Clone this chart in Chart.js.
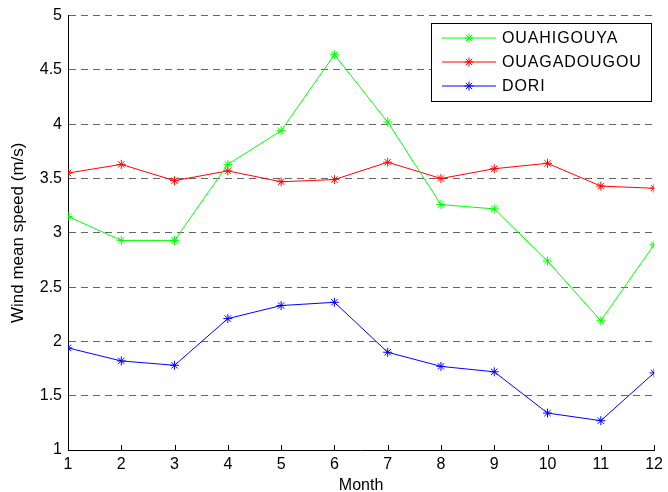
<!DOCTYPE html>
<html lang="en">
<head>
    <meta charset="UTF-8">
    <title>Wind mean speed</title>
    <style>
        html, body { margin: 0; padding: 0; background: #fff; }
        #wrap { width: 668px; height: 492px; }
    </style>
</head>
<body>
    <div id="wrap"><canvas id="myChart" width="668" height="492"></canvas></div>

    <script src="https://cdn.jsdelivr.net/npm/chart.js@4.4.0/dist/chart.umd.min.js"></script>
    <script>
        // data
        var months = [1, 2, 3, 4, 5, 6, 7, 8, 9, 10, 11, 12];
        var ouahigouya = [3.15, 2.93, 2.93, 3.63, 3.94, 4.64, 4.02, 3.26, 3.22, 2.74, 2.19, 2.89];
        var ouagadougou = [3.55, 3.63, 3.48, 3.57, 3.47, 3.49, 3.65, 3.50, 3.59, 3.64, 3.43, 3.41];
        var dori = [1.94, 1.82, 1.78, 2.21, 2.33, 2.36, 1.90, 1.77, 1.72, 1.34, 1.27, 1.71];
        var yTicks = [1, 1.5, 2, 2.5, 3, 3.5, 4, 4.5, 5];

        var font = "'Liberation Sans', Arial, Helvetica, sans-serif";

        function series(label, values, color) {
            return {
                label: label,
                data: values.map(function (v, i) { return { x: months[i], y: v }; }),
                borderColor: color,
                backgroundColor: color,
                borderWidth: 1,
                pointStyle: 'star',
                pointRadius: 4.5,
                pointBorderWidth: 1,
                tension: 0,
                fill: false
            };
        }

        // matlab style ticks pointing into the plot
        var innerTicks = {
            id: 'innerTicks',
            afterDraw: function (chart) {
                var ctx = chart.ctx, xs = chart.scales.x, area = chart.chartArea;
                ctx.save();
                ctx.strokeStyle = '#000';
                ctx.lineWidth = 1;
                ctx.beginPath();
                months.forEach(function (m) {
                    var px = Math.round(xs.getPixelForValue(m)) + 0.5;
                    ctx.moveTo(px, area.bottom);
                    ctx.lineTo(px, area.bottom - 5);
                });
                ctx.stroke();
                ctx.restore();
            }
        };

        // legend box with line + marker, like the original
        var boxLegend = {
            id: 'boxLegend',
            afterDraw: function (chart) {
                var ctx = chart.ctx;
                var bx = 431.5, by = 23.5, bw = 220, bh = 78;
                ctx.save();
                ctx.fillStyle = '#fff';
                ctx.fillRect(bx, by, bw, bh);
                ctx.strokeStyle = '#000';
                ctx.lineWidth = 1;
                ctx.strokeRect(bx, by, bw, bh);
                ctx.font = '16px ' + font;
                ctx.letterSpacing = '0.9px';
                ctx.textBaseline = 'middle';
                chart.data.datasets.forEach(function (ds, i) {
                    var y = 38 + i * 24;
                    ctx.strokeStyle = ds.borderColor;
                    ctx.beginPath();
                    ctx.moveTo(442, y);
                    ctx.lineTo(496, y);
                    ctx.stroke();
                    Chart.helpers.drawPoint(ctx, { pointStyle: 'star', radius: 4.5, borderWidth: 1 }, 469, y);
                    ctx.fillStyle = '#000';
                    ctx.fillText(ds.label, 502, y + 1);
                });
                ctx.restore();
            }
        };

        var ctx = document.getElementById('myChart').getContext('2d');
        var myChart = new Chart(ctx, {
            type: 'line',
            data: {
                datasets: [
                    series('OUAHIGOUYA', ouahigouya, '#00ff00'),
                    series('OUAGADOUGOU', ouagadougou, '#ff0000'),
                    series('DORI', dori, '#0000ff')
                ]
            },
            plugins: [innerTicks, boxLegend],
            options: {
                responsive: false,
                animation: false,
                layout: { padding: { top: 15, right: 11, bottom: 0, left: 0 } },
                plugins: {
                    legend: { display: false },
                    tooltip: { enabled: false }
                },
                scales: {
                    x: {
                        type: 'linear',
                        min: 1,
                        max: 12,
                        afterBuildTicks: function (scale) {
                            scale.ticks = months.map(function (m) { return { value: m }; });
                        },
                        afterFit: function (scale) { scale.height = 42; },
                        grid: { display: false, drawTicks: false },
                        border: { display: true, color: '#000', width: 1 },
                        ticks: { color: '#000', padding: 5, font: { family: font, size: 16 } },
                        title: {
                            display: true,
                            text: 'Month',
                            color: '#000',
                            padding: { top: 0, bottom: -3 },
                            font: { family: font, size: 16 }
                        }
                    },
                    y: {
                        min: 1,
                        max: 5,
                        afterBuildTicks: function (scale) {
                            scale.ticks = yTicks.map(function (v) { return { value: v }; });
                        },
                        afterFit: function (scale) { scale.width = 68; },
                        grid: {
                            drawTicks: false,
                            color: function (c) { return c.tick && c.tick.value === 1 ? 'rgba(0,0,0,0)' : '#666666'; },
                            lineWidth: 1
                        },
                        border: { display: true, color: '#000', width: 1, dash: [7, 5] },
                        ticks: {
                            color: '#000',
                            padding: 6,
                            font: { family: font, size: 16 },
                            callback: function (v) { return String(v); }
                        },
                        title: {
                            display: true,
                            text: 'Wind mean speed (m/s)',
                            color: '#000',
                            padding: { top: 8, bottom: 0 },
                            font: { family: font, size: 17 }
                        }
                    }
                }
            }
        });
    </script>
</body>
</html>
